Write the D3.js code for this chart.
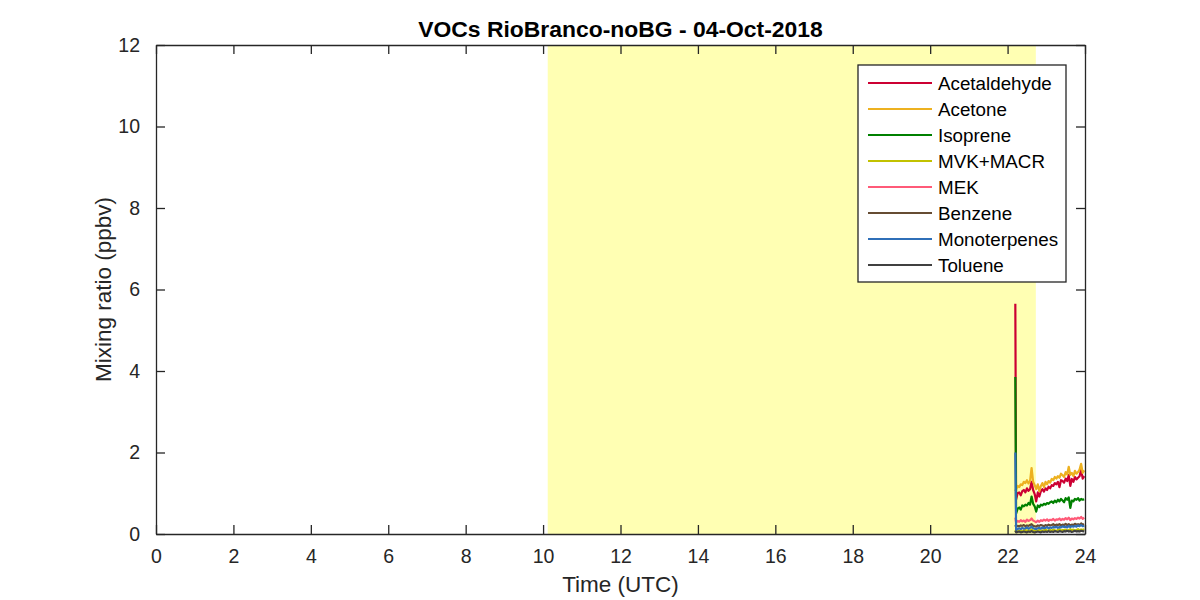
<!DOCTYPE html>
<html>
<head>
<meta charset="utf-8">
<script src="https://cdn.jsdelivr.net/npm/d3@7"></script>
<style>
  html, body { margin: 0; padding: 0; background: #fff; }
  svg { display: block; }
  text { font-family: "Liberation Sans", Arial, Helvetica, sans-serif; fill: #262626; }
</style>
</head>
<body>
<svg id="chart" width="1200" height="600"></svg>
<script>
// ---------------- data ----------------
const titleText = "VOCs RioBranco-noBG - 04-Oct-2018";
const xLabel = "Time (UTC)";
const yLabel = "Mixing ratio (ppbv)";
const xTicks = [0, 2, 4, 6, 8, 10, 12, 14, 16, 18, 20, 22, 24];
const yTicks = [0, 2, 4, 6, 8, 10, 12];
const shadeStart = 10.12;
const shadeEnd = 22.73;

const seriesNames = ["Acetaldehyde", "Acetone", "Isoprene", "MVK+MACR", "MEK", "Benzene", "Monoterpenes", "Toluene"];
const seriesColors = ["#cc0033", "#edb120", "#008000", "#c2c200", "#ff5a78", "#664c33", "#2f6fb8", "#404040"];

const timeUTC = [22.20, 22.22, 22.26, 22.30, 22.34, 22.38, 22.42, 22.46, 22.50, 22.54, 22.58, 22.62, 22.66, 22.70, 22.74, 22.78,
  22.82, 22.86, 22.90, 22.94, 22.98, 23.02, 23.06, 23.10, 23.14, 23.18, 23.22, 23.26, 23.30, 23.34, 23.38, 23.42,
  23.46, 23.50, 23.54, 23.58, 23.62, 23.66, 23.70, 23.74, 23.78, 23.82, 23.86, 23.90, 23.94, 23.98];

const acetaldehyde = [5.65, 0.85, 1.00, 1.02, 0.95, 1.05, 1.08, 1.02, 1.12, 1.06, 1.10, 1.28, 1.08, 0.98, 0.80, 1.02,
  0.92, 1.05, 1.10, 1.04, 1.12, 1.08, 1.16, 1.12, 1.20, 1.18, 1.25, 1.22, 1.28, 1.15, 1.32, 1.30,
  1.26, 1.36, 1.30, 1.45, 1.18, 1.35, 1.28, 1.40, 1.34, 1.38, 1.42, 1.58, 1.36, 1.42];
const acetone = [1.05, 1.10, 1.18, 1.15, 1.22, 1.20, 1.28, 1.25, 1.32, 1.24, 1.30, 1.62, 1.28, 1.20, 1.10, 1.22,
  1.05, 1.18, 1.25, 1.15, 1.28, 1.22, 1.30, 1.26, 1.35, 1.32, 1.40, 1.36, 1.42, 1.38, 1.48, 1.44,
  1.40, 1.52, 1.46, 1.65, 1.45, 1.50, 1.42, 1.55, 1.48, 1.52, 1.58, 1.72, 1.50, 1.56];
const isoprene = [3.85, 0.50, 0.62, 0.65, 0.60, 0.70, 0.68, 0.72, 0.70, 0.76, 0.72, 0.92, 0.74, 0.68, 0.55, 0.70,
  0.66, 0.72, 0.70, 0.74, 0.72, 0.76, 0.74, 0.78, 0.80, 0.76, 0.82, 0.78, 0.84, 0.80, 0.86, 0.82,
  0.78, 0.88, 0.84, 0.90, 0.64, 0.82, 0.80, 0.86, 0.84, 0.88, 0.82, 0.86, 0.84, 0.85];
const mvkMacr = [0.10, 0.06, 0.08, 0.07, 0.09, 0.06, 0.08, 0.10, 0.07, 0.09, 0.08, 0.11, 0.07, 0.09, 0.06, 0.08,
  0.10, 0.07, 0.09, 0.08, 0.12, 0.07, 0.09, 0.10, 0.08, 0.11, 0.09, 0.07, 0.10, 0.12, 0.08, 0.10,
  0.09, 0.11, 0.08, 0.10, 0.12, 0.09, 0.11, 0.08, 0.10, 0.12, 0.09, 0.11, 0.10, 0.12];
const mek = [0.40, 0.28, 0.32, 0.30, 0.34, 0.31, 0.33, 0.30, 0.35, 0.32, 0.34, 0.38, 0.33, 0.31, 0.29, 0.33,
  0.30, 0.34, 0.32, 0.35, 0.33, 0.36, 0.32, 0.35, 0.34, 0.37, 0.33, 0.36, 0.35, 0.38, 0.34, 0.37,
  0.35, 0.39, 0.36, 0.40, 0.34, 0.38, 0.36, 0.39, 0.37, 0.40, 0.38, 0.42, 0.37, 0.40];
const benzene = [0.22, 0.18, 0.20, 0.19, 0.21, 0.20, 0.22, 0.19, 0.21, 0.20, 0.22, 0.24, 0.20, 0.19, 0.18, 0.21,
  0.20, 0.22, 0.21, 0.19, 0.22, 0.20, 0.23, 0.21, 0.22, 0.24, 0.21, 0.23, 0.22, 0.24, 0.21, 0.23,
  0.22, 0.25, 0.22, 0.24, 0.21, 0.23, 0.22, 0.25, 0.23, 0.24, 0.22, 0.26, 0.23, 0.24];
const monoterpenes = [2.00, 0.10, 0.12, 0.14, 0.12, 0.15, 0.13, 0.14, 0.16, 0.13, 0.15, 0.18, 0.14, 0.13, 0.12, 0.14,
  0.15, 0.13, 0.16, 0.14, 0.15, 0.17, 0.14, 0.16, 0.15, 0.17, 0.16, 0.18, 0.15, 0.17, 0.16, 0.19,
  0.17, 0.18, 0.16, 0.20, 0.17, 0.19, 0.18, 0.20, 0.18, 0.21, 0.19, 0.22, 0.19, 0.20];
const toluene = [0.08, 0.04, 0.05, 0.06, 0.04, 0.05, 0.06, 0.05, 0.04, 0.06, 0.05, 0.07, 0.05, 0.04, 0.05, 0.06,
  0.05, 0.04, 0.06, 0.05, 0.06, 0.05, 0.07, 0.05, 0.06, 0.05, 0.07, 0.06, 0.05, 0.07, 0.06, 0.05,
  0.07, 0.06, 0.08, 0.06, 0.07, 0.05, 0.06, 0.08, 0.06, 0.07, 0.06, 0.08, 0.07, 0.06];

const seriesValues = [acetaldehyde, acetone, isoprene, mvkMacr, mek, benzene, monoterpenes, toluene];

// ---------------- layout ----------------
const axL = 156, axR = 1085, axT = 45, axB = 534;
const axisColor = "#262626";
const tickLen = 9;

const svg = d3.select("#chart");
const x = d3.scaleLinear().domain([0, 24]).range([axL, axR]);
const y = d3.scaleLinear().domain([0, 12]).range([axB, axT]);

// shaded period
svg.append("rect")
  .attr("x", x(shadeStart)).attr("y", y(12))
  .attr("width", x(shadeEnd) - x(shadeStart))
  .attr("height", y(0) - y(12))
  .attr("fill", "#ffffb3");

// series lines
const line = d3.line().x(d => x(d[0])).y(d => y(d[1]));
seriesValues.forEach((vals, i) => {
  const pts = timeUTC.map((t, j) => [t, vals[j]]);
  svg.append("path")
    .datum(pts)
    .attr("d", line)
    .attr("fill", "none")
    .attr("stroke", seriesColors[i])
    .attr("stroke-width", 2.2)
    .attr("stroke-linejoin", "round");
});

// axes (MATLAB-like: inward ticks, box)
const fontTick = 19.5;
const xAxisB = d3.axisBottom(x).tickValues(xTicks).tickSizeInner(-tickLen).tickSizeOuter(0).tickPadding(15).tickFormat(d3.format("d"));
const xAxisT = d3.axisTop(x).tickValues(xTicks).tickSizeInner(-tickLen).tickSizeOuter(0).tickFormat("");
const yAxisL = d3.axisLeft(y).tickValues(yTicks).tickSizeInner(-tickLen).tickSizeOuter(0).tickPadding(16).tickFormat(d3.format("d"));
const yAxisR = d3.axisRight(y).tickValues(yTicks).tickSizeInner(-tickLen).tickSizeOuter(0).tickFormat("");

function styleAxis(g) {
  g.selectAll("path.domain").attr("stroke", axisColor).attr("stroke-width", 1.3);
  g.selectAll(".tick line").attr("stroke", axisColor).attr("stroke-width", 1.3);
  g.selectAll(".tick text").attr("fill", axisColor)
    .style("font-family", '"Liberation Sans", Arial, sans-serif').style("font-size", fontTick + "px");
}
svg.append("g").attr("transform", `translate(0,${axB})`).call(xAxisB).call(styleAxis);
svg.append("g").attr("transform", `translate(0,${axT})`).call(xAxisT).call(styleAxis);
svg.append("g").attr("transform", `translate(${axL},0)`).call(yAxisL).call(styleAxis);
svg.append("g").attr("transform", `translate(${axR},0)`).call(yAxisR).call(styleAxis);

// title & labels
svg.append("text")
  .attr("x", (axL + axR) / 2).attr("y", 37)
  .attr("text-anchor", "middle")
  .style("font-size", "22.9px").style("font-weight", "bold")
  .style("fill", "#000")
  .text(titleText);

svg.append("text")
  .attr("x", (axL + axR) / 2).attr("y", 592)
  .attr("text-anchor", "middle")
  .style("font-size", "22.5px")
  .text(xLabel);

svg.append("text")
  .attr("transform", `translate(111,${(axT + axB) / 2}) rotate(-90)`)
  .attr("text-anchor", "middle")
  .style("font-size", "22.5px")
  .text(yLabel);

// legend
const lgX = 858, lgY = 65, lgW = 208, lgH = 217;
const lg = svg.append("g");
lg.append("rect")
  .attr("x", lgX).attr("y", lgY).attr("width", lgW).attr("height", lgH)
  .attr("fill", "#fff").attr("stroke", axisColor).attr("stroke-width", 1.3);
seriesNames.forEach((name, i) => {
  const cy = 83 + i * 26;
  lg.append("line")
    .attr("x1", 868).attr("x2", 932).attr("y1", cy).attr("y2", cy)
    .attr("stroke", seriesColors[i]).attr("stroke-width", 2);
  lg.append("text")
    .attr("x", 938).attr("y", cy).attr("dy", "0.35em")
    .style("font-size", "18.8px").style("fill", "#000")
    .text(name);
});
</script>
</body>
</html>
